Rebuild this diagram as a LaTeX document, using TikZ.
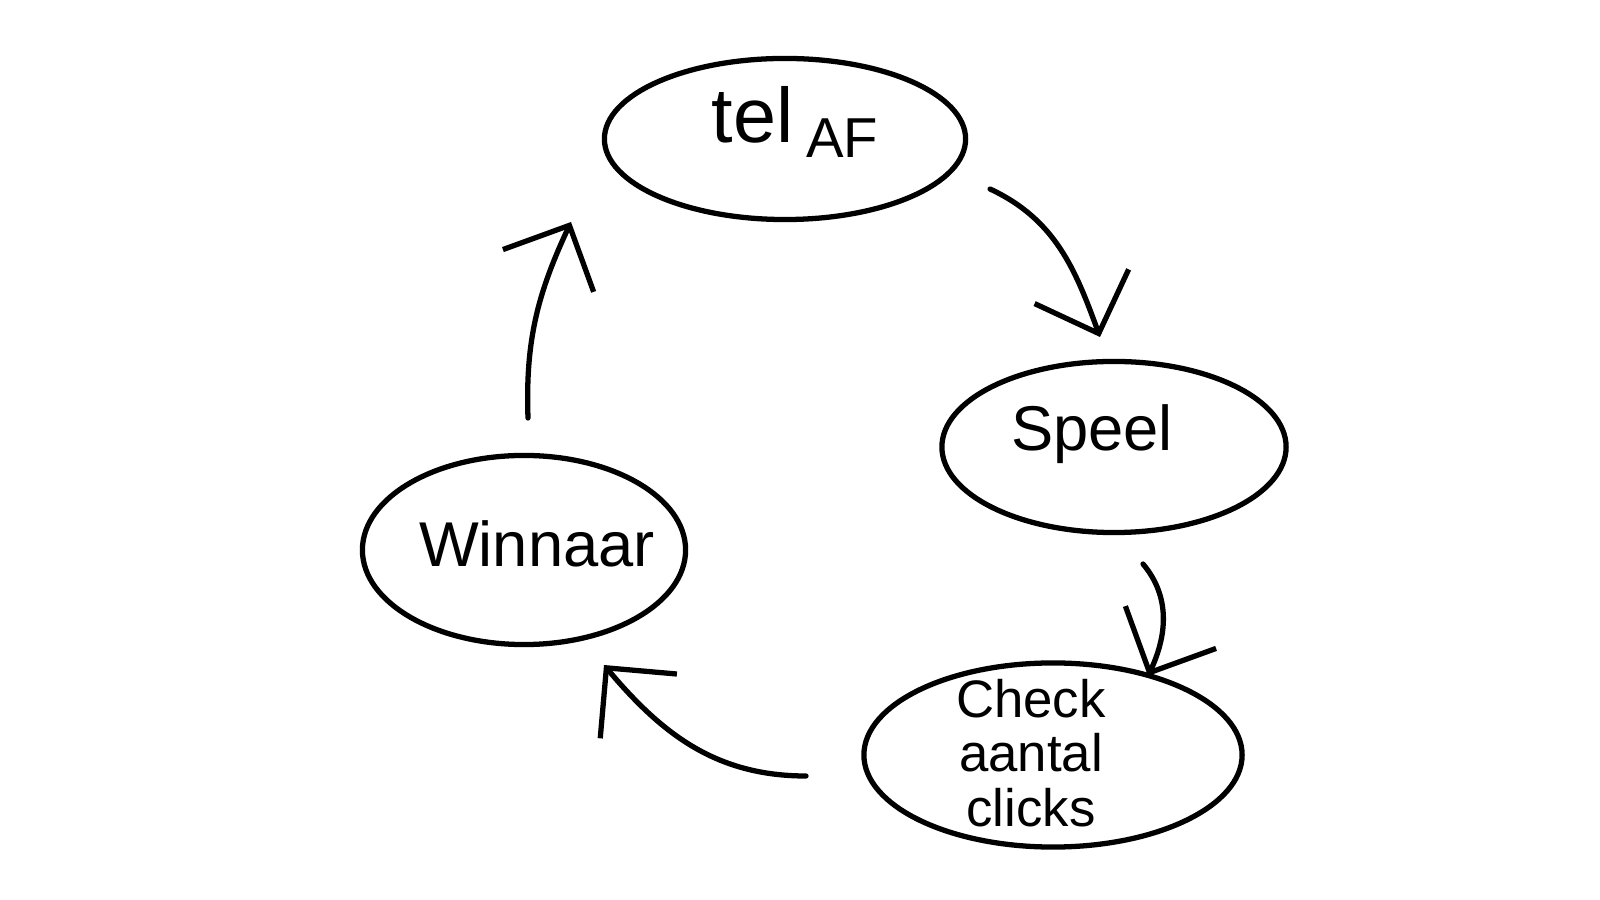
\documentclass[tikz,border=0pt]{standalone}
\usepackage{fontspec}
\setmainfont{Liberation Sans}
\usetikzlibrary{arrows.meta,shapes.geometric}
\tikzset{
  stepnode/.style = {ellipse, draw = black, line width = 1.5pt, inner sep = 0pt},
  steptext/.style = {inner sep = 0pt, align = center, font = \fontsize{18}{20}\selectfont},
  flow/.style = {line width = 1.5pt, line cap = round, line join = round, -{Straight Barb[length = 5mm, width = 10mm]}}
}
\begin{document}
\begin{tikzpicture}[x=0.01cm, y=0.01cm]
  \useasboundingbox (0,0) rectangle (1600,900);
  % the four steps
  \node [stepnode, minimum width = 3.61cm, minimum height = 1.61cm,
    label = {[steptext, xshift = 0.1cm, yshift = 0.17cm, font = \fontsize{22}{24}\selectfont]center:tel\,\raisebox{-0.35ex}{\fontsize{16}{16}\selectfont AF}}] (tel) at (785,761) {};
  \node [stepnode, minimum width = 3.44cm, minimum height = 1.71cm,
    label = {[steptext, xshift = -0.22cm, yshift = 0.13cm]center:Speel}] (speel) at (1114,453) {};
  \node [stepnode, minimum width = 3.78cm, minimum height = 1.84cm,
    label = {[steptext, xshift = -0.22cm, yshift = 0.02cm, font = \fontsize{15}{15.5}\selectfont]center:Check\\aantal\\clicks}] (check) at (1053,145) {};
  \node [stepnode, minimum width = 3.23cm, minimum height = 1.89cm,
    label = {[steptext, xshift = 0.13cm, yshift = 0.06cm]center:Winnaar}] (winnaar) at (524,350) {};
  % free ends of the arrows
  \coordinate (telout) at (990,711);
  \coordinate (speelin) at (1100,563);
  \coordinate (speelout) at (1143,336);
  \coordinate (checkin) at (1148,224);
  \coordinate (checkout) at (806,124);
  \coordinate (winnaarin) at (604,235);
  \coordinate (winnaarout) at (528,482);
  \coordinate (telin) at (571,678);
  % the loop
  \draw [flow] (telout) to[out=-25, in=110] (speelin);
  \draw [flow] (speelout) to[out=-50, in=65] (checkin);
  \draw [flow] (checkout) to[out=180, in=-50] (winnaarin);
  \draw [flow] (winnaarout) to[out=92, in=-115] (telin);
\end{tikzpicture}
\end{document}
